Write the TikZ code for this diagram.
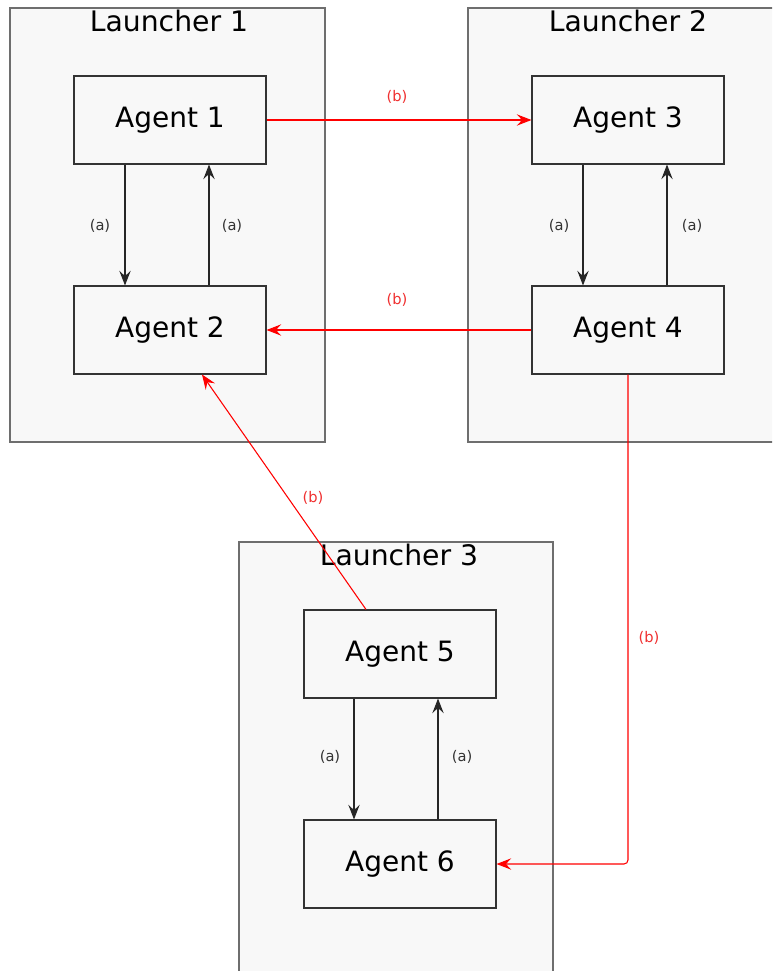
\documentclass[tikz,border=0pt]{standalone}
\usepackage{fontspec}
\setmainfont{DejaVu Sans}
\usetikzlibrary{arrows.meta,calc,fit}
\definecolor{boxfill}{HTML}{F8F8F8}
\definecolor{lgray}{HTML}{6E6E6E}
\definecolor{agray}{HTML}{333333}
\definecolor{myred}{HTML}{FF0000}
\definecolor{lblred}{HTML}{F03030}
\begin{document}
\begin{tikzpicture}[x=0.75pt,y=-0.75pt,
  launcher/.style={draw=lgray,fill=boxfill,line width=0.9pt,inner sep=0pt},
  ltitle/.style={font=\fontsize{21.2}{25}\selectfont,anchor=base,inner sep=0pt},
  agent/.style={draw=agray,fill=boxfill,line width=0.8pt,minimum width=144pt,minimum height=66pt,inner sep=0pt,font=\fontsize{21}{25}\selectfont},
  tip/.style={-{Stealth[length=11pt,width=8.5pt,inset=4pt]}},
  blk/.style={draw=black!85,line width=0.8pt,tip},
  rd/.style={draw=myred,line width=0.8pt,tip},
  alab/.style={font=\fontsize{11}{13}\selectfont,text=agray,inner sep=0pt},
  blab/.style={font=\fontsize{11}{13}\selectfont,text=lblred,inner sep=0pt}]
\clip (0,0) rectangle (772,971);
\fill[white] (0,0) rectangle (772,971);
% launchers
\node[launcher,fit={(10,8) (325,442)}] (L1) {};
\node[launcher,fit={(468,8) (800,442)}] (L2) {};
\node[launcher,fit={(239,542) (553,1000)}] (L3) {};
\node[ltitle] (T1) at (169,31) {Launcher 1};
\node[ltitle] (T2) at (628,31) {Launcher 2};
\node[ltitle] (T3) at (399,565) {Launcher 3};
% agents
\node[agent] (A1) at (170,120) {Agent 1};
\node[agent] (A2) at (170,330) {Agent 2};
\node[agent] (A3) at (628,120) {Agent 3};
\node[agent] (A4) at (628,330) {Agent 4};
\node[agent] (A5) at (400,654) {Agent 5};
\node[agent] (A6) at (400,864) {Agent 6};
% (a) arrows
\draw[blk] ($(A1.south)+(-45,0)$) -- ($(A2.north)+(-45,0)$);
\draw[blk] ($(A2.north)+(39,0)$) -- ($(A1.south)+(39,0)$);
\draw[blk] ($(A3.south)+(-45,0)$) -- ($(A4.north)+(-45,0)$);
\draw[blk] ($(A4.north)+(39,0)$) -- ($(A3.south)+(39,0)$);
\draw[blk] ($(A5.south)+(-46,0)$) -- ($(A6.north)+(-46,0)$);
\draw[blk] ($(A6.north)+(38,0)$) -- ($(A5.south)+(38,0)$);
\node[alab] (a1) at (100,226) {(a)};
\node[alab] (a2) at (232,226) {(a)};
\node[alab] (a3) at (559,226) {(a)};
\node[alab] (a4) at (692,226) {(a)};
\node[alab] (a5) at (330,757) {(a)};
\node[alab] (a6) at (462,757) {(a)};
% (b) arrows
\draw[rd] (A1.east) -- (A3.west);
\draw[rd] (A4.west) -- (A2.east);
\draw[rd] ($(A5.north)+(-34,0)$) -- ($(A2.south)+(32,0)$);
\draw[rd,rounded corners=3pt] (A4.south) |- (A6.east);
\node[blab] (b1) at (397,97) {(b)};
\node[blab] (b2) at (397,300) {(b)};
\node[blab] (b3) at (313,498) {(b)};
\node[blab] (b4) at (649,638) {(b)};
\end{tikzpicture}
\end{document}
